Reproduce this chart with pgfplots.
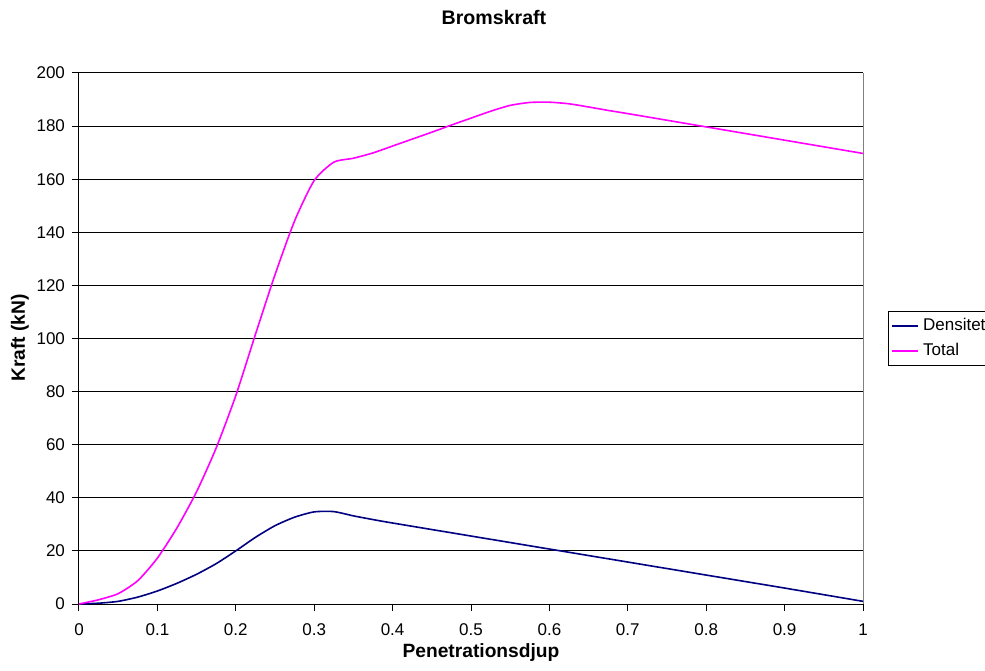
\documentclass[border=0pt]{standalone}
\usepackage{pgfplots}
\pgfplotsset{compat=1.18}
\usepackage{fontspec}
\setmainfont{Liberation Sans}
\definecolor{densblue}{RGB}{0,0,128}
\definecolor{totmag}{RGB}{255,0,255}
\begin{document}
\begin{tikzpicture}
\useasboundingbox (-39.5pt,-33pt) rectangle (453pt,302pt);
\begin{axis}[
  at={(0,0)}, anchor=south west,
  scale only axis, width=392pt, height=265.5pt,
  xmin=0, xmax=1, ymin=0, ymax=200,
  axis x line*=bottom, axis y line*=left,
  axis line style={black, line width=0.5pt},
  xtick={0,0.1,...,1.0},
  xticklabels={0,0.1,0.2,0.3,0.4,0.5,0.6,0.7,0.8,0.9,1},
  ytick={0,20,...,200},
  tick align=outside, major tick length=3.5pt,
  tick style={black, line width=0.5pt},
  ymajorgrids, grid style={black, line width=0.5pt},
  ticklabel style={font=\fontsize{8.5}{10}\selectfont},
  xticklabel style={yshift=-3pt},
  /pgf/number format/assume math mode=true,
  legend style={at={(1,0.5)}, anchor=west, xshift=12.5pt, draw=black, line width=0.5pt,
    font=\fontsize{8.5}{10}\selectfont, inner sep=1.5pt, row sep=0.8pt},
  legend cell align=left,
  legend image code/.code={\draw[#1] (0pt,0pt) -- (13pt,0pt);},
  clip=false,
]
\addplot[densblue, line width=0.8pt, smooth, tension=0.4] coordinates {
(0,0) (0.025,0.3) (0.05,1.0) (0.075,2.6) (0.1,4.9) (0.125,7.8) (0.15,11.2) (0.175,15.2)
(0.2,20.0) (0.225,25.1) (0.25,29.5) (0.275,32.7) (0.3,34.7) (0.325,34.8) (0.35,33.2)
(0.375,31.8) (0.4,30.5) (0.5,25.6) (0.6,20.7) (0.7,15.8) (0.8,10.9) (0.9,6) (1.0,1)
};
\addlegendentry{Densitet}
\addplot[totmag, line width=0.8pt, smooth, tension=0.4] coordinates {
(0,0) (0.025,1.6) (0.05,3.9) (0.075,8.8) (0.1,17.3) (0.125,28.7) (0.15,42.3) (0.175,58.8)
(0.2,78.5) (0.225,101.5) (0.25,124) (0.275,144.3) (0.3,159.5) (0.325,166.4) (0.35,167.9)
(0.375,169.9) (0.4,172.5) (0.425,175.1) (0.45,177.7) (0.475,180.4) (0.5,183.0)
(0.525,185.6) (0.55,187.8) (0.575,188.9) (0.6,189.0) (0.625,188.4) (0.65,187.2)
(0.675,185.9) (0.7,184.7) (0.8,179.7) (0.9,174.7) (1.0,169.7)
};
\addlegendentry{Total}
\draw[gray, line width=0.5pt] (rel axis cs:1,0) -- (rel axis cs:1,1);
\end{axis}
\node[anchor=base, font=\bfseries\fontsize{9.8}{12}\selectfont] at (207.5pt,289.5pt) {Bromskraft};
\node[anchor=base, font=\bfseries\fontsize{9.6}{12}\selectfont] at (201pt,-26.5pt) {Penetrationsdjup};
\node[anchor=base, rotate=90, font=\bfseries\fontsize{9.6}{12}\selectfont] at (-27pt,133pt) {Kraft (kN)};
\end{tikzpicture}
\end{document}
